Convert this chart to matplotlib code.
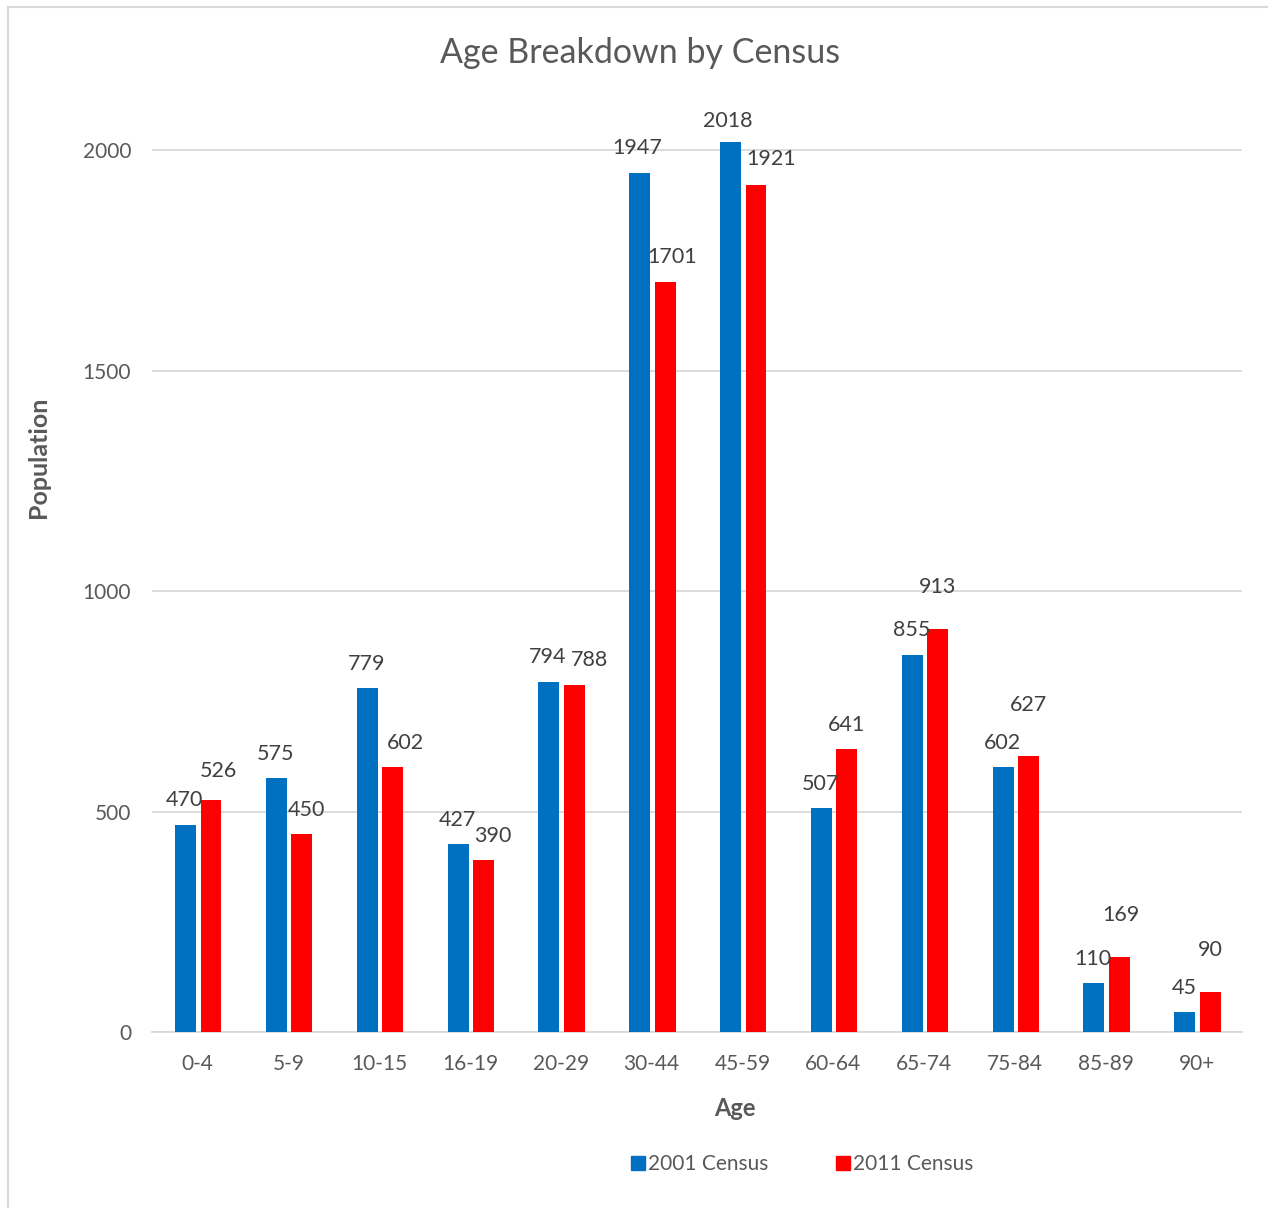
import matplotlib
matplotlib.use('Agg')
import matplotlib.pyplot as plt
from matplotlib.lines import Line2D
import numpy as np

# data
ages = ['0-4', '5-9', '10-15', '16-19', '20-29', '30-44', '45-59',
        '60-64', '65-74', '75-84', '85-89', '90+']
census_2001 = [470, 575, 779, 427, 794, 1947, 2018, 507, 855, 602, 110, 45]
census_2011 = [526, 450, 602, 390, 788, 1701, 1921, 641, 913, 627, 169, 90]
series_names = ['2001 Census', '2011 Census']

# label nudges (pixels) as placed in the original chart
lab_2001_dx = [-1, -1, -1, -1, -1, -3, -3, -1, -1, -1, -1, -1]
lab_2001_dy = [25, 24, 24, 24, 25, 25, 21, 24, 25, 24, 24, 24]
lab_2011_dx = [7.5, 4.5, 12.5, 9.5, 15.5, 7, 15, 0, 0, 0, 1.5, 0]
lab_2011_dy = [29, 24, 24, 24, 24.5, 25, 26, 24, 42, 51, 42, 42]

plt.rcParams['font.family'] = ['Lato', 'DejaVu Sans']
BLUE = '#0070C0'
RED = '#FF0000'
GREY = '#595959'
LABEL = '#404040'
GRID = '#D9D9D9'

fig = plt.figure(figsize=(12.68, 12.08), dpi=100)
ax = fig.add_axes([152 / 1268, 176 / 1208, 1090 / 1268, 926 / 1208])

x = np.arange(len(ages))
w = 0.23
ax.bar(x - 0.13, census_2001, w, color=BLUE, zorder=3)
ax.bar(x + 0.15, census_2011, w, color=RED, zorder=3)

for i in range(len(ages)):
    ax.annotate(str(census_2001[i]), xy=(x[i] - 0.13, census_2001[i]),
                xytext=(lab_2001_dx[i], lab_2001_dy[i]), textcoords='offset pixels',
                ha='center', va='center', fontsize=15.5, color=LABEL)
    ax.annotate(str(census_2011[i]), xy=(x[i] + 0.15, census_2011[i]),
                xytext=(lab_2011_dx[i], lab_2011_dy[i]), textcoords='offset pixels',
                ha='center', va='center', fontsize=15.5, color=LABEL)

ax.set_xlim(-0.5, len(ages) - 0.5)
ax.set_ylim(0, 2100)
ax.set_yticks([0, 500, 1000, 1500, 2000])
ax.set_xticks(x)
ax.set_xticklabels(ages)
ax.tick_params(axis='both', length=0, labelsize=15, colors=GREY)
ax.tick_params(axis='x', pad=16)
ax.tick_params(axis='y', pad=15)
ax.yaxis.grid(True, color=GRID, linewidth=1.3, zorder=0)
for s in ['top', 'right', 'left']:
    ax.spines[s].set_visible(False)
ax.spines['bottom'].set_color(GRID)
ax.spines['bottom'].set_linewidth(1.3)

fig.text(640 / 1268, 1 - 53 / 1208, 'Age Breakdown by Census', ha='center', va='center',
         fontsize=24.5, color=GREY)
fig.text(735 / 1268, 1 - 1108 / 1208, 'Age', ha='center', va='center',
         fontsize=17, fontweight='bold', color=GREY)
fig.text(38 / 1268, 1 - 457 / 1208, 'Population', ha='center', va='center',
         rotation=90, fontsize=18, fontweight='bold', color=GREY)

handles = [Line2D([], [], marker='s', linestyle='none', markersize=10,
                  markerfacecolor=c, markeredgecolor=c) for c in (BLUE, RED)]
fig.legend(handles, series_names, loc='center', bbox_to_anchor=(802 / 1268, 1 - 1164 / 1208),
           ncol=2, frameon=False, fontsize=15, labelcolor=GREY, handletextpad=0.15,
           columnspacing=3.2, handlelength=0.7)

# document frame lines
fig.add_artist(Line2D([8 / 1268, 8 / 1268], [0, 1 - 7 / 1208], color=GRID, linewidth=1.5,
                      transform=fig.transFigure))
fig.add_artist(Line2D([8 / 1268, 1], [1 - 7 / 1208, 1 - 7 / 1208], color=GRID, linewidth=1.5,
                      transform=fig.transFigure))

fig.savefig('out.png', dpi=100)
